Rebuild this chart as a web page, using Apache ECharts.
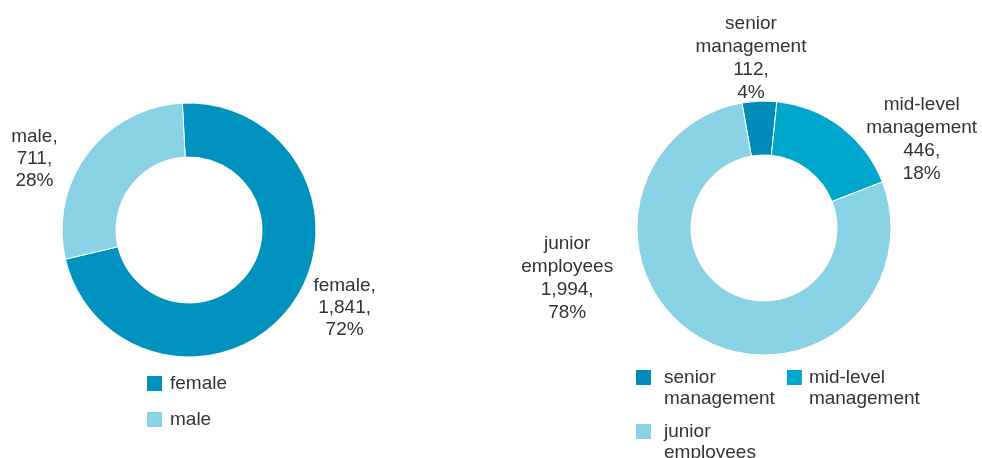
<!DOCTYPE html>
<html>
<head>
<meta charset="utf-8">
<script src="https://cdn.jsdelivr.net/npm/echarts@6/dist/echarts.min.js"></script>
<style>
  html, body { margin: 0; padding: 0; background: #fff; }
  #chart { width: 982px; height: 458px; }
</style>
</head>
<body>
<div id="chart"></div>
<script>
// gender split
var genderNames = ['female', 'male'];
var genderValues = [1841, 711];

// staff level split
var levelNames = ['senior management', 'mid-level management', 'junior employees'];
var levelValues = [112, 446, 1994];

var genderColors = ['#0092BF', '#8AD3E6'];
var levelColors = ['#008BB9', '#00A7CC', '#8AD3E6'];

var FONT = '"Liberation Sans", Arial, sans-serif';
var TEXT = '#333333';

// where each label sits round its donut: [angle clockwise from 12 o'clock, distance from centre]
var labelSpots = [
    [[116.6, 174], [-65.4, 170]],
    [[-4.4, 170], [60.6, 181], [-104.2, 203]]
];
var centers = [[189, 230], [764, 228]];

function toData(names, values, colors) {
    var out = [];
    for (var i = 0; i < names.length; i++) {
        out.push({ name: names[i], value: values[i], itemStyle: { color: colors[i] } });
    }
    return out;
}

// leading blank line keeps the first text line level with the swatch
function twoLines(n) {
    return '\n' + n.replace(' ', '\n');
}

var chart = echarts.init(document.getElementById('chart'), null, { renderer: 'canvas' });

var option = {
    animation: false,
    textStyle: { fontFamily: FONT, color: TEXT },
    legend: [
        {
            data: genderNames,
            orient: 'vertical',
            left: 145,
            top: 374,
            padding: 0,
            icon: 'rect',
            itemWidth: 17,
            itemHeight: 17,
            itemGap: 17,
            selectedMode: false,
            textStyle: { fontFamily: FONT, fontSize: 19, color: TEXT, lineHeight: 17, padding: [0, 0, 0, 2] }
        },
        {
            data: [
                { name: levelNames[0], textStyle: { padding: [0, 0, 0, 7] } },
                { name: levelNames[1], textStyle: { padding: [0, 0, 0, 1] } }
            ],
            orient: 'horizontal',
            left: 634,
            top: 346,
            padding: 0,
            icon: 'rect',
            itemWidth: 17,
            itemHeight: 17,
            itemGap: 10,
            selectedMode: false,
            formatter: twoLines,
            textStyle: { fontFamily: FONT, fontSize: 19, color: TEXT, lineHeight: 21 }
        },
        {
            data: [{ name: levelNames[2], textStyle: { padding: [0, 0, 0, 7] } }],
            orient: 'horizontal',
            left: 634,
            top: 400,
            padding: 0,
            icon: 'rect',
            itemWidth: 17,
            itemHeight: 17,
            selectedMode: false,
            formatter: twoLines,
            textStyle: { fontFamily: FONT, fontSize: 19, color: TEXT, lineHeight: 21 }
        }
    ],
    series: [
        {
            name: 'gender',
            type: 'pie',
            center: centers[0],
            radius: [73, 127],
            startAngle: 93,
            clockwise: true,
            percentPrecision: 0,
            avoidLabelOverlap: false,
            itemStyle: { borderColor: '#fff', borderWidth: 1 },
            label: {
                show: true,
                position: 'outside',
                fontFamily: FONT,
                fontSize: 19,
                lineHeight: 22,
                color: TEXT,
                formatter: function (p) {
                    return p.name + ',\n' + echarts.format.addCommas(p.value) + ',\n' + p.percent + '%';
                }
            },
            labelLine: { show: false },
            labelLayout: function (p) { return placeLabel(0, p.dataIndex); },
            emphasis: { disabled: true },
            data: toData(genderNames, genderValues, genderColors)
        },
        {
            name: 'level',
            type: 'pie',
            center: centers[1],
            radius: [73, 127],
            startAngle: 100,
            clockwise: true,
            percentPrecision: 0,
            avoidLabelOverlap: false,
            itemStyle: { borderColor: '#fff', borderWidth: 1 },
            label: {
                show: true,
                position: 'outside',
                fontFamily: FONT,
                fontSize: 19,
                lineHeight: 23,
                color: TEXT,
                formatter: function (p) {
                    return p.name.replace(' ', '\n') + '\n' + echarts.format.addCommas(p.value) + ',\n' + p.percent + '%';
                }
            },
            labelLine: { show: false },
            labelLayout: function (p) { return placeLabel(1, p.dataIndex); },
            emphasis: { disabled: true },
            data: toData(levelNames, levelValues, levelColors)
        }
    ]
};

function placeLabel(s, i) {
    var spot = labelSpots[s][i];
    var a = spot[0] * Math.PI / 180;
    return {
        x: centers[s][0] + spot[1] * Math.sin(a),
        y: centers[s][1] - spot[1] * Math.cos(a),
        align: 'center',
        verticalAlign: 'middle'
    };
}

chart.setOption(option);
</script>
</body>
</html>
